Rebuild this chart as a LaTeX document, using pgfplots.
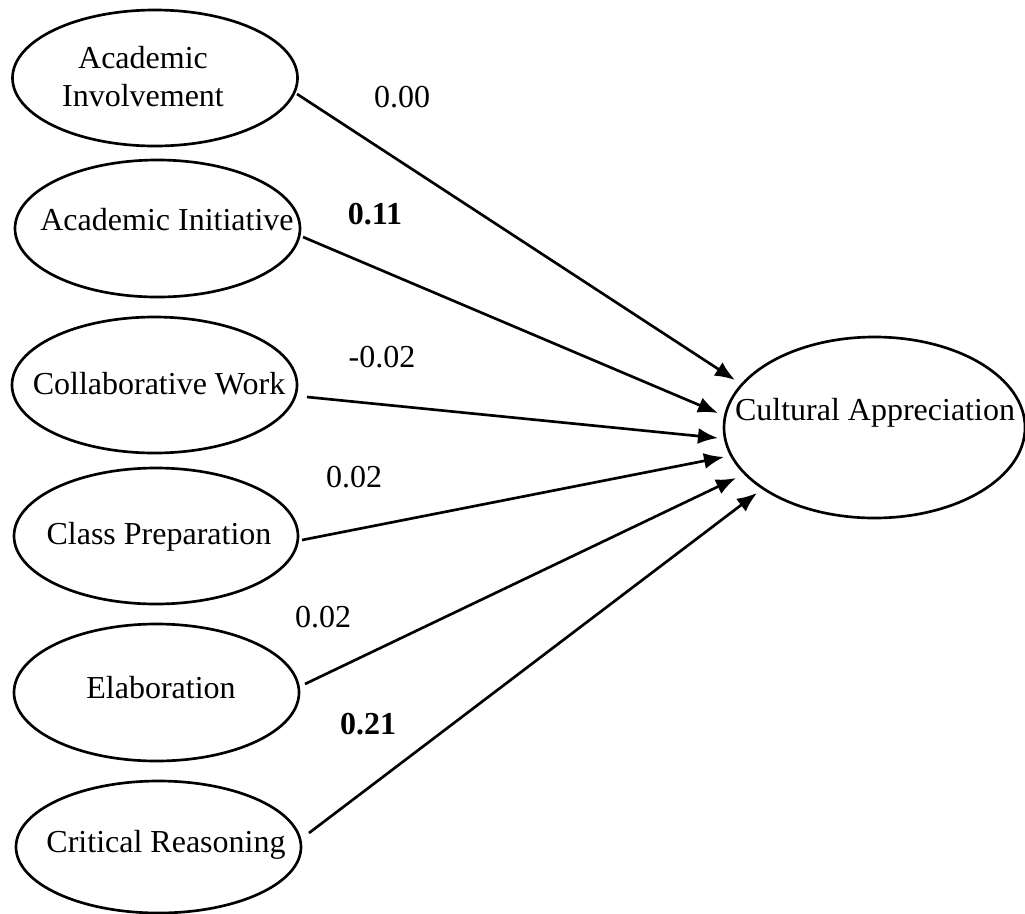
\documentclass[border=0pt]{standalone}
\usepackage{pgfplots}
\pgfplotsset{compat=1.18}
\usepackage{fontspec}
\setmainfont{Liberation Serif}
\usetikzlibrary{arrows.meta}
\begin{document}
\begin{tikzpicture}[font=\fontsize{12}{14.4}\selectfont,
  lbl/.style={font=\fontsize{12}{14.4}\selectfont, inner sep=0pt, anchor=base}]
\begin{axis}[
  width=384.375pt, height=342.75pt, scale only axis,
  xmin=0, xmax=1025, ymin=0, ymax=914, y dir=reverse,
  hide axis, clip=false,
]
% ellipses (centre x, centre y, radii in px * 0.375pt)
\draw[line width=1pt] (axis cs:155,78)    ellipse [x radius=53.44pt, y radius=25.5pt];
\draw[line width=1pt] (axis cs:157.5,228.5) ellipse [x radius=53.44pt, y radius=25.69pt];
\draw[line width=1pt] (axis cs:154.5,385) ellipse [x radius=53.44pt, y radius=25.5pt];
\draw[line width=1pt] (axis cs:156,536)   ellipse [x radius=53.25pt, y radius=25.5pt];
\draw[line width=1pt] (axis cs:156.5,692.5) ellipse [x radius=53.44pt, y radius=25.69pt];
\draw[line width=1pt] (axis cs:158.5,847) ellipse [x radius=53.44pt, y radius=24.75pt];
\draw[line width=1pt] (axis cs:874.5,427.5) ellipse [x radius=56.44pt, y radius=33.94pt];
% paths
\addplot[black, line width=1pt, -{Latex[length=7.5pt,width=6pt]}] coordinates {(297,94) (735,380)};
\addplot[black, line width=1pt, -{Latex[length=7.5pt,width=6pt]}] coordinates {(303,237) (718,413)};
\addplot[black, line width=1pt, -{Latex[length=7.5pt,width=6pt]}] coordinates {(307,397) (718,438)};
\addplot[black, line width=1pt, -{Latex[length=7.5pt,width=6pt]}] coordinates {(302,540) (724,457)};
\addplot[black, line width=1pt, -{Latex[length=7.5pt,width=6pt]}] coordinates {(305,684) (736,478)};
\addplot[black, line width=1pt, -{Latex[length=7.5pt,width=6pt]}] coordinates {(309,833) (757,493)};
% construct names
\node[lbl] at (axis cs:143,68) {Academic};
\node[lbl] at (axis cs:143,106) {Involvement};
\node[lbl] at (axis cs:167,230) {Academic Initiative};
\node[lbl] at (axis cs:159,394) {Collaborative Work};
\node[lbl] at (axis cs:159,544) {Class Preparation};
\node[lbl] at (axis cs:161,698) {Elaboration};
\node[lbl] at (axis cs:166,852) {Critical Reasoning};
\node[lbl] at (axis cs:875,420) {Cultural Appreciation};
% coefficients
\node[lbl] at (axis cs:402,107) {0.00};
\node[lbl] at (axis cs:375,224) {\textbf{0.11}};
\node[lbl] at (axis cs:382,367) {-0.02};
\node[lbl] at (axis cs:354,487) {0.02};
\node[lbl] at (axis cs:323,627) {0.02};
\node[lbl] at (axis cs:368,734) {\textbf{0.21}};
\end{axis}
\pgfresetboundingbox
\path[use as bounding box] (current axis.south west) rectangle (current axis.north east);
\end{tikzpicture}
\end{document}
